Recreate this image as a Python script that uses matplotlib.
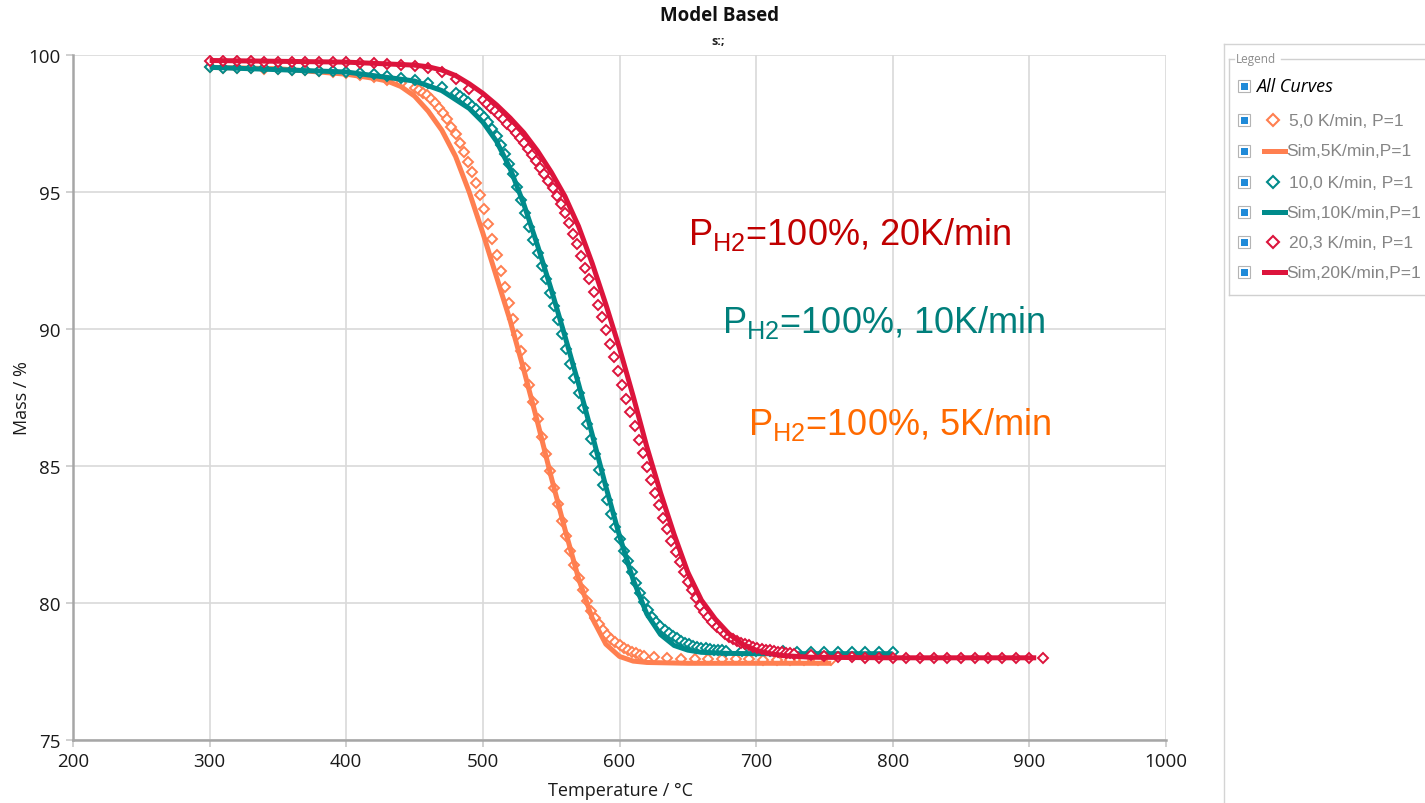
import numpy as np
import matplotlib.pyplot as plt
from matplotlib.lines import Line2D
from matplotlib.patches import Rectangle

W, H = 1425, 804

ORANGE = '#ff7f50'
TEAL = '#008b8b'
RED = '#dc143c'

# ---- measured data, 5 K/min (diamonds) ----
t5_exp = np.concatenate([np.arange(300, 441, 10), np.arange(450, 619, 3), np.arange(625, 756, 10)])
m5_exp_lo = [99.55, 99.54, 99.53, 99.52, 99.50, 99.48, 99.46, 99.44, 99.41, 99.38,
             99.34, 99.28, 99.20, 99.10, 98.97]
m5_exp_mid = [98.80, 98.72, 98.63, 98.53, 98.41, 98.26, 98.08, 97.88, 97.65, 97.38,
              97.10, 96.78, 96.45, 96.11, 95.74, 95.33, 94.88, 94.38, 93.84, 93.28,
              92.70, 92.12, 91.53, 90.94, 90.36, 89.78, 89.19, 88.59, 87.96, 87.33,
              86.70, 86.07, 85.44, 84.81, 84.20, 83.60, 83.00, 82.43, 81.89, 81.38,
              80.90, 80.47, 80.08, 79.72, 79.45, 79.22, 79.02, 78.84, 78.70, 78.57,
              78.45, 78.36, 78.28, 78.22, 78.17, 78.12, 78.08]
m5_exp_hi = [78.03, 77.99, 77.97, 77.96, 77.95, 77.95, 77.94, 77.94, 77.93, 77.93,
             77.93, 77.92, 77.92, 77.92]

# ---- measured data, 10 K/min ----
t10_exp = np.concatenate([np.arange(300, 471, 10), np.arange(480, 679, 3), np.arange(690, 801, 10)])
m10_exp_lo = [99.55, 99.54, 99.53, 99.52, 99.51, 99.49, 99.47, 99.45, 99.43, 99.41,
              99.39, 99.35, 99.30, 99.24, 99.17, 99.09, 98.98, 98.83]
m10_exp_mid = [98.60, 98.50, 98.39, 98.28, 98.15, 98.02, 97.88, 97.73, 97.55, 97.30,
               97.03, 96.72, 96.40, 96.04, 95.65, 95.17, 94.70, 94.22, 93.74, 93.26,
               92.78, 92.30, 91.82, 91.33, 90.83, 90.32, 89.81, 89.28, 88.74, 88.20,
               87.65, 87.10, 86.54, 85.98, 85.42, 84.85, 84.30, 83.77, 83.26, 82.78,
               82.32, 81.90, 81.52, 81.12, 80.74, 80.38, 80.02, 79.74, 79.50, 79.32,
               79.16, 79.02, 78.90, 78.80, 78.71, 78.62, 78.55, 78.49, 78.44, 78.40,
               78.37, 78.34, 78.31, 78.29, 78.28, 78.27, 78.26]
m10_exp_hi = [78.25, 78.24, 78.23, 78.23, 78.22, 78.22, 78.22, 78.21, 78.21, 78.21,
              78.21, 78.21]

# ---- measured data, 20,3 K/min ----
t20_exp = np.concatenate([np.arange(300, 491, 10), np.arange(500, 729, 3), np.arange(740, 911, 10)])
m20_exp_lo = [99.78, 99.78, 99.77, 99.77, 99.76, 99.76, 99.75, 99.75, 99.74, 99.74,
              99.73, 99.72, 99.70, 99.68, 99.65, 99.61, 99.53, 99.38, 99.12, 98.75]
m20_exp_mid = [98.35, 98.22, 98.08, 97.95, 97.80, 97.65, 97.50, 97.34, 97.16, 96.98,
               96.80, 96.58, 96.35, 96.13, 95.89, 95.65, 95.41, 95.15, 94.85, 94.55,
               94.25, 93.87, 93.48, 93.10, 92.68, 92.24, 91.81, 91.36, 90.89, 90.42,
               89.95, 89.46, 88.96, 88.47, 87.96, 87.46, 86.96, 86.46, 85.96, 85.47,
               84.97, 84.50, 84.03, 83.56, 83.11, 82.69, 82.26, 81.85, 81.48, 81.12,
               80.75, 80.47, 80.18, 79.90, 79.68, 79.49, 79.30, 79.14, 79.01, 78.88,
               78.76, 78.69, 78.62, 78.54, 78.49, 78.45, 78.40, 78.36, 78.33, 78.30,
               78.27, 78.25, 78.22, 78.20, 78.18, 78.16, 78.14]
m20_exp_hi = [78.09, 78.06, 78.04, 78.02, 78.01, 78.0, 78.0, 78.0, 78.0, 78.0,
              78.0, 78.0, 78.0, 78.0, 78.0, 78.0, 78.0, 78.0]

# ---- simulated curves ----
t5_sim = [300, 350, 400, 420, 430, 440, 450, 460, 470, 480, 490, 500, 510, 520, 530,
          540, 550, 560, 570, 580, 590, 600, 610, 620, 650, 700, 755]
m5_sim = [99.55, 99.5, 99.3, 99.15, 99.05, 98.85, 98.5, 97.95, 97.25, 96.3, 95.0, 93.5,
          91.9, 90.3, 88.5, 86.6, 84.6, 82.7, 80.9, 79.45, 78.5, 78.05, 77.88, 77.83,
          77.8, 77.8, 77.8]
t10_sim = [300, 400, 450, 470, 490, 500, 510, 520, 530, 540, 550, 560, 570, 580, 590,
           600, 610, 620, 630, 640, 650, 660, 680, 700, 800]
m10_sim = [99.55, 99.38, 99.05, 98.7, 98.05, 97.55, 96.85, 95.85, 94.55, 93.05, 91.45,
           89.75, 88.0, 86.15, 84.25, 82.45, 80.85, 79.6, 78.85, 78.45, 78.28, 78.2,
           78.16, 78.15, 78.15]
t20_sim = [300, 400, 450, 460, 470, 480, 490, 500, 510, 520, 530, 540, 550, 560, 570,
           580, 590, 600, 610, 620, 630, 640, 650, 660, 670, 680, 690, 700, 710, 720,
           740, 800, 905]
m20_sim = [99.8, 99.74, 99.63, 99.57, 99.45, 99.25, 98.95, 98.6, 98.18, 97.7, 97.16,
           96.5, 95.73, 94.85, 93.75, 92.4, 90.9, 89.3, 87.55, 85.7, 84.03, 82.5, 81.12,
           80.1, 79.42, 78.88, 78.5, 78.28, 78.15, 78.08, 78.02, 78.0, 78.0]

m5_exp = m5_exp_lo + m5_exp_mid + m5_exp_hi
m10_exp = m10_exp_lo + m10_exp_mid + m10_exp_hi
m20_exp = m20_exp_lo + m20_exp_mid + m20_exp_hi

series = [
    ('5,0 K/min, P=1', 'Sim,5K/min,P=1', ORANGE, t5_exp, m5_exp, t5_sim, m5_sim),
    ('10,0 K/min, P=1', 'Sim,10K/min,P=1', TEAL, t10_exp, m10_exp, t10_sim, m10_sim),
    ('20,3 K/min, P=1', 'Sim,20K/min,P=1', RED, t20_exp, m20_exp, t20_sim, m20_sim),
]


def fx(x):
    return x / W


def fy(y):
    return 1 - y / H


fig = plt.figure(figsize=(W / 100, H / 100), dpi=100)
ax = fig.add_axes([fx(73), fy(741), (1166 - 73) / W, (741 - 56) / H])

for exp_name, sim_name, col, te, me, ts, ms in series:
    ax.plot(te, me, ls='none', marker='D', ms=5, mfc='white', mec=col, mew=1.4, zorder=3)
    ax.plot(ts, ms, color=col, lw=3.6, solid_joinstyle='round', solid_capstyle='butt', zorder=3)

ax.set_xlim(200, 1000)
ax.set_ylim(75, 100)
ax.set_xticks(range(200, 1001, 100))
ax.set_yticks(range(75, 101, 5))
ax.grid(True, color='#d9d9d9', lw=1.2)
ax.set_axisbelow(True)
for s in ['top', 'right']:
    ax.spines[s].set_visible(False)
for s in ['left', 'bottom']:
    ax.spines[s].set_color('#a6a6a6')
    ax.spines[s].set_linewidth(1.8)
ax.tick_params(direction='out', length=5, color='#c8c8c8', width=1.2,
               labelsize=13.5, labelcolor='#1a1a1a', pad=4)
for lab in ax.get_xticklabels() + ax.get_yticklabels():
    lab.set_family('Open Sans')

fig.text(fx(620), fy(791), 'Temperature / °C', ha='center', va='center',
         fontsize=13, family='Open Sans', color='#1a1a1a')
fig.text(fx(22), fy(398), 'Mass / %', ha='center', va='center', rotation=90,
         fontsize=13, family='Open Sans', color='#1a1a1a')
fig.text(fx(720), fy(16), 'Model Based', ha='center', va='center',
         fontsize=13.5, fontweight='bold', family='Open Sans', color='#111111')
fig.text(fx(718), fy(41), 's:;', ha='center', va='center',
         fontsize=9, fontweight='bold', family='Open Sans', color='#222222')

# annotations on the plot
notes = [
    (650, 93.1, r'P$_{\mathregular{H2}}$=100%, 20K/min', '#c00000'),
    (675, 89.9, r'P$_{\mathregular{H2}}$=100%, 10K/min', '#007f7b'),
    (694, 86.17, r'P$_{\mathregular{H2}}$=100%, 5K/min', '#ff6a00'),
]
for x, y, s, c in notes:
    ax.text(x, y, s, color=c, fontsize=26, family='Liberation Sans', va='baseline', ha='left')

# legend panel
fig.add_artist(Line2D([fx(1224), fx(1224)], [fy(45), fy(804)], color='#d4d4d4', lw=1))
fig.add_artist(Line2D([fx(1224), fx(1425)], [fy(45), fy(45)], color='#d4d4d4', lw=1))
gb = '#d0d0d0'
fig.add_artist(Line2D([fx(1229), fx(1229)], [fy(60), fy(296)], color=gb, lw=1))
fig.add_artist(Line2D([fx(1229), fx(1440)], [fy(296), fy(296)], color=gb, lw=1))
fig.add_artist(Line2D([fx(1229), fx(1234)], [fy(60), fy(60)], color=gb, lw=1))
fig.add_artist(Line2D([fx(1281), fx(1440)], [fy(60), fy(60)], color=gb, lw=1))
fig.text(fx(1236), fy(60), 'Legend', fontsize=8.5, family='Open Sans', color='#8c8c8c',
         va='center', ha='left')


def checkbox(y):
    fig.add_artist(Rectangle((fx(1238), fy(y + 6)), 12 / W, 12 / H, facecolor='white',
                             edgecolor='#b4b4b4', lw=0.8))
    fig.add_artist(Rectangle((fx(1240.5), fy(y + 3.5)), 7 / W, 7 / H, facecolor='#1f8ad8',
                             edgecolor='none'))


checkbox(87)
fig.text(fx(1256), fy(87), 'All Curves', fontsize=13, style='italic', family='Open Sans',
         color='black', va='center', ha='left')

row_y = [121, 152, 183, 213, 243, 273]
i = 0
for exp_name, sim_name, col, te, me, ts, ms in series:
    y = row_y[i]
    checkbox(y)
    fig.add_artist(Line2D([fx(1273)], [fy(y)], ls='none', marker='D', ms=6, mfc='white',
                          mec=col, mew=1.5))
    fig.text(fx(1289), fy(y), exp_name, fontsize=12.5, family='Liberation Sans',
             color='#858585', va='center', ha='left')
    y = row_y[i + 1]
    checkbox(y)
    fig.add_artist(Line2D([fx(1264), fx(1285)], [fy(y), fy(y)], color=col, lw=3.6))
    fig.text(fx(1286), fy(y), sim_name, fontsize=12.5, family='Liberation Sans',
             color='#858585', va='center', ha='left')
    i += 2

fig.savefig('out.png', dpi=100)
